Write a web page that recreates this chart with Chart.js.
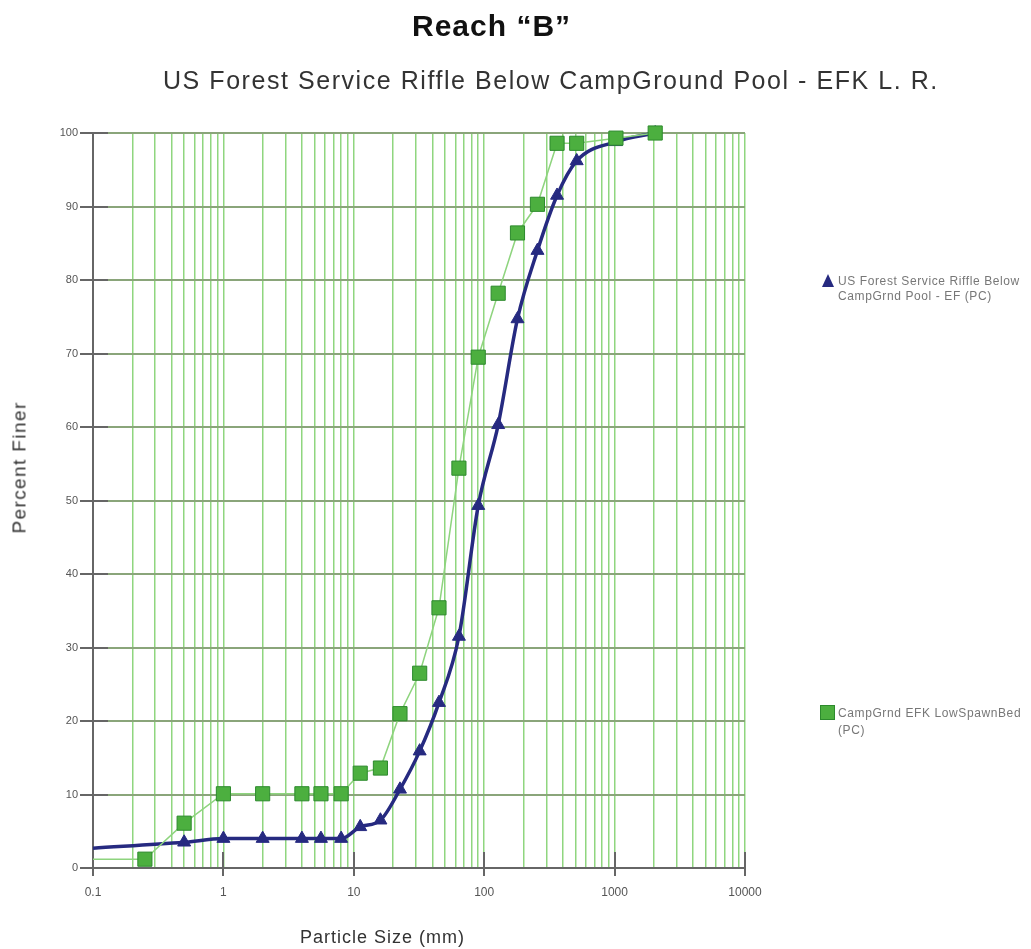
<!DOCTYPE html>
<html>
<head>
<meta charset="utf-8">
<script src="https://cdn.jsdelivr.net/npm/chart.js@4/dist/chart.umd.min.js"></script>
<style>
  body { margin: 0; background: #fff; font-family: "Liberation Sans", Arial, sans-serif; }
  #wrap { position: relative; width: 1031px; height: 949px; overflow: hidden; }
  #chart { position: absolute; left: 0; top: 0; }
  .txt { position: absolute; white-space: nowrap; line-height: 1; }
  #title { left: 412px; top: 11px; font-size: 30px; font-weight: bold; letter-spacing: 1px; color: #111; }
  #subtitle { left: 163px; top: 68px; font-size: 25px; letter-spacing: 1.55px; color: #333; }
  #ytitle { left: -81px; top: 458px; width: 200px; text-align: center; font-size: 19px; letter-spacing: 1.4px; color: #333; transform: rotate(-90deg); }
  #xtitle { left: 300px; top: 928px; font-size: 18px; letter-spacing: 1px; color: #333; }
  .leg { position: absolute; font-size: 12px; letter-spacing: 0.6px; line-height: 15px; color: #777; white-space: nowrap; }
  #legBlueMark { position: absolute; left: 822px; top: 274px; width: 0; height: 0;
    border-left: 6.5px solid transparent; border-right: 6.5px solid transparent; border-bottom: 13px solid #262a80; }
  #legGreenMark { position: absolute; left: 820px; top: 705px; width: 13px; height: 13px; background: #4caf3f; border: 1px solid #2d8a2d; }
</style>
</head>
<body>
<div id="wrap">
  <canvas id="chart" width="1031" height="949"></canvas>
  <div class="txt" id="title">Reach “B”</div>
  <div class="txt" id="subtitle">US Forest Service Riffle Below CampGround Pool - EFK L. R.</div>
  <div class="txt" id="ytitle">Percent Finer</div>
  <div class="txt" id="xtitle">Particle Size (mm)</div>
  <div id="legBlueMark"></div>
  <div class="leg" id="legBlue" style="left:838px; top:274px;">US Forest Service Riffle Below<br>CampGrnd Pool - EF (PC)</div>
  <div id="legGreenMark"></div>
  <div class="leg" id="legGreen" style="left:838px; top:705px; line-height:17px;">CampGrnd EFK LowSpawnBed<br>(PC)</div>
</div>
<script>
// series 1: US Forest Service Riffle Below CampGrnd Pool - EF (PC)
const blueSizes = [0.1, 0.5, 1, 2, 4, 5.6, 8, 11.2, 16, 22.6, 32, 45, 64, 90, 128, 180, 256, 362, 512, 1024, 2048];
const bluePercent = [2.7, 3.5, 4.0, 4.0, 4.0, 4.0, 4.0, 5.6, 6.5, 10.7, 15.9, 22.5, 31.5, 49.3, 60.3, 74.7, 84.0, 91.5, 96.2, 98.8, 100];

// series 2: CampGrnd EFK LowSpawnBed (PC)
const greenSizes = [0.1, 0.25, 0.5, 1, 2, 4, 5.6, 8, 11.2, 16, 22.6, 32, 45, 64, 90, 128, 180, 256, 362, 512, 1024, 2048];
const greenPercent = [1.2, 1.2, 6.1, 10.1, 10.1, 10.1, 10.1, 10.1, 12.9, 13.6, 21.0, 26.5, 35.4, 54.4, 69.5, 78.2, 86.4, 90.3, 98.6, 98.6, 99.3, 100];

const seriesNames = ['US Forest Service Riffle Below CampGrnd Pool - EF (PC)', 'CampGrnd EFK LowSpawnBed (PC)'];

// axis ticks
const xTickValues = [0.1, 1, 10, 100, 1000, 10000];
const xTickLabels = ['0.1', '1', '10', '100', '1000', '10000'];
const yTickValues = [0, 10, 20, 30, 40, 50, 60, 70, 80, 90, 100];

Chart.defaults.font.family = '"Liberation Sans", Arial, sans-serif';

function toPoints(xs, ys) {
  return xs.map((x, i) => ({ x: x, y: ys[i] }));
}

// every 1..9 step of each decade gets a grid line
function logGridValues() {
  const vals = [];
  for (let d = 0; d < xTickValues.length - 1; d++) {
    for (let k = 1; k <= 9; k++) vals.push(+(xTickValues[d] * k).toPrecision(6));
  }
  vals.push(xTickValues[xTickValues.length - 1]);
  return vals;
}

// tick marks crossing the axis lines
const axisTicks = {
  id: 'axisTicks',
  beforeDatasetsDraw(chart) {
    const { ctx, chartArea, scales } = chart;
    ctx.save();
    ctx.strokeStyle = '#666';
    ctx.lineWidth = 2;
    ctx.beginPath();
    xTickValues.forEach(v => {
      const px = Math.round(scales.x.getPixelForValue(v));
      ctx.moveTo(px, chartArea.bottom - 16);
      ctx.lineTo(px, chartArea.bottom + 8);
    });
    yTickValues.forEach(v => {
      const py = Math.round(scales.y.getPixelForValue(v));
      ctx.moveTo(chartArea.left - 13, py);
      ctx.lineTo(chartArea.left + 15, py);
    });
    ctx.stroke();
    ctx.restore();
  }
};

const canvas = document.getElementById('chart');

new Chart(canvas, {
  type: 'scatter',
  data: {
    datasets: [{
      label: seriesNames[0],
      data: toPoints(blueSizes, bluePercent),
      showLine: true,
      borderColor: '#262a80',
      borderWidth: 3.5,
      cubicInterpolationMode: 'monotone',
      pointStyle: 'triangle',
      pointRadius: blueSizes.map((s, i) => i === 0 ? 0 : 7.5),
      pointBackgroundColor: '#262a80',
      pointBorderColor: '#262a80',
      pointBorderWidth: 1,
      clip: false,
      order: 1
    }, {
      label: seriesNames[1],
      data: toPoints(greenSizes, greenPercent),
      showLine: true,
      borderColor: '#8ed47e',
      borderWidth: 1.5,
      tension: 0,
      pointStyle: 'rect',
      pointRadius: greenSizes.map((s, i) => i === 0 ? 0 : 10),
      pointBackgroundColor: '#4caf3f',
      pointBorderColor: '#2d8a2d',
      pointBorderWidth: 1,
      clip: false,
      order: 0
    }]
  },
  options: {
    responsive: false,
    animation: false,
    layout: { padding: { left: 43, top: 133, right: 286, bottom: 41 } },
    plugins: {
      legend: { display: false },
      title: { display: false },
      tooltip: { enabled: false }
    },
    scales: {
      x: {
        type: 'logarithmic',
        min: 0.1,
        max: 10000,
        afterFit(scale) { scale.height = 40; },
        afterBuildTicks(scale) {
          scale.ticks = logGridValues().map(v => ({ value: v }));
        },
        ticks: {
          autoSkip: false,
          maxRotation: 0,
          padding: 17,
          color: '#555',
          font: { size: 12 },
          callback(value) {
            const i = xTickValues.findIndex(t => Math.abs(t - value) / t < 1e-6);
            return i >= 0 ? xTickLabels[i] : '';
          }
        },
        grid: { color: '#8fd67f', lineWidth: 1.5, drawTicks: false },
        border: { color: '#666', width: 2 }
      },
      y: {
        min: 0,
        max: 100,
        afterFit(scale) { scale.width = 50; },
        afterBuildTicks(scale) {
          scale.ticks = yTickValues.map(v => ({ value: v }));
        },
        ticks: {
          padding: 15,
          color: '#555',
          font: { size: 11 }
        },
        grid: { color: '#8aa57a', lineWidth: 2, drawTicks: false },
        border: { color: '#666', width: 2 }
      }
    }
  },
  plugins: [axisTicks]
});
</script>
</body>
</html>
